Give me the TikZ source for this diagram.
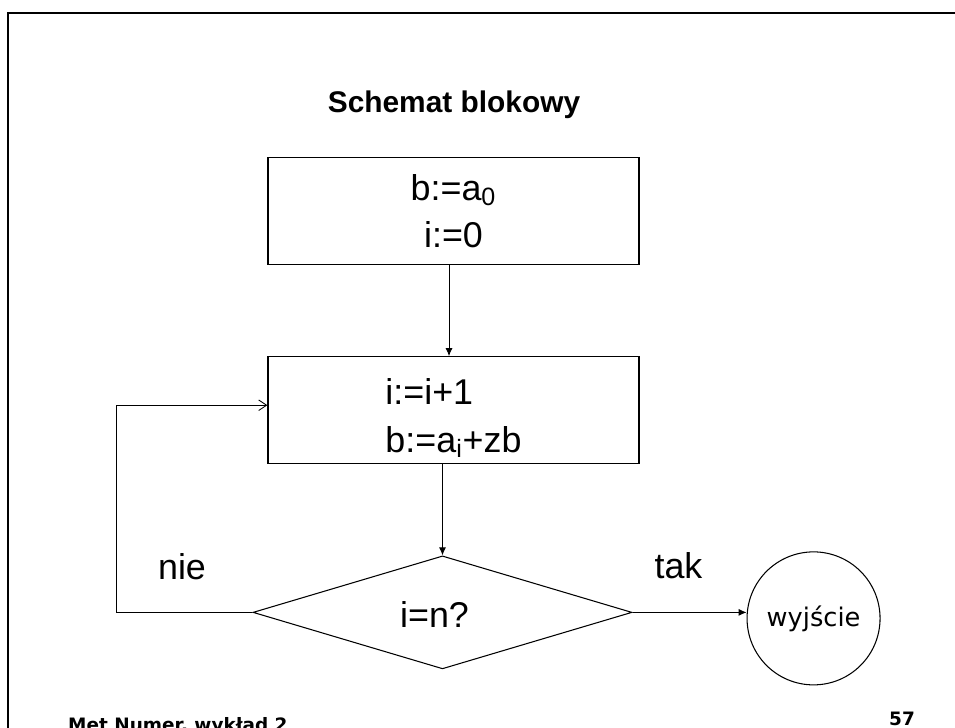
\documentclass[tikz,border=0pt]{standalone}
\usepackage{fontspec}
\setmainfont{Liberation Sans}
\newfontfamily\verdana{DejaVu Sans}
\usetikzlibrary{positioning,shapes.geometric,arrows.meta}

\begin{document}
\begin{tikzpicture}[
  node distance=1.82cm,
  blok/.style={draw, line width=0.7pt, minimum width=7.42cm, minimum height=2.14cm, inner sep=0pt, font=\fontsize{20.4}{27}\selectfont},
  warunek/.style={draw, diamond, aspect=1, minimum width=7.58cm, minimum height=2.26cm, inner sep=0pt, line width=0.6pt},
  koniec/.style={draw, circle, minimum size=2.66cm, inner sep=0pt, line width=0.6pt, font=\verdana\fontsize{14.6}{17}\selectfont},
  etykieta/.style={font=\fontsize{20.4}{24}\selectfont, anchor=base},
  stopka/.style={font=\verdana\bfseries\fontsize{10.5}{12}\selectfont, anchor=base west},
  arr/.style={-{Latex[length=4.5pt, width=4pt]}, line width=0.5pt},
  petla/.style={-{Straight Barb[length=4.5pt, width=6pt]}, line width=0.5pt}
]
\useasboundingbox (0,0) rectangle (19.1,-14.54);

% Frame
\draw[line width=1.3pt] (0.166,-14.7) |- (19.3,-0.256);

% Title
\node[font=\bfseries\fontsize{17}{20}\selectfont, anchor=base] (tytul) at (9.08,-2.24) {Schemat blokowy};

% Blocks
\node[blok, align=center] (start) at (9.07,-4.22) {b:=a\textsubscript{0}\\i:=0};
\node[blok, align=left, below=of start] (krok) {\rule{0pt}{24pt}i:=i+1\\b:=a\textsubscript{i}+zb};
\node[warunek, below=of krok, xshift=-0.22cm] (test) {};
\node[font=\fontsize{20.4}{24}\selectfont] (testtxt) at ([xshift=-0.16cm, yshift=-0.04cm]test.center) {i=n?};
\node[koniec, right=2.28cm of test, yshift=-0.12cm] (wyjscie) {wyjście};

% Labels
\node[etykieta] (nie) at (3.64,-11.58) {nie};
\node[etykieta] (tak) at (13.57,-11.56) {tak};

% Arrows
\draw[arr] ([xshift=-0.09cm]start.south) -- ([xshift=-0.09cm]krok.north);
\draw[arr] (krok.south -| test.north) -- (test.north);
\draw[arr] (test.east) -- (test.east -| wyjscie.west);
\draw[petla] (test.west) -- ++(-2.72,0) |- ([yshift=0.1cm]krok.west);

% Footer
\node[stopka] (wyklad) at (1.24,-14.63) {Met Numer, wykład 2};
\node[stopka] (strona) at (17.66,-14.50) {57};
\end{tikzpicture}
\end{document}
